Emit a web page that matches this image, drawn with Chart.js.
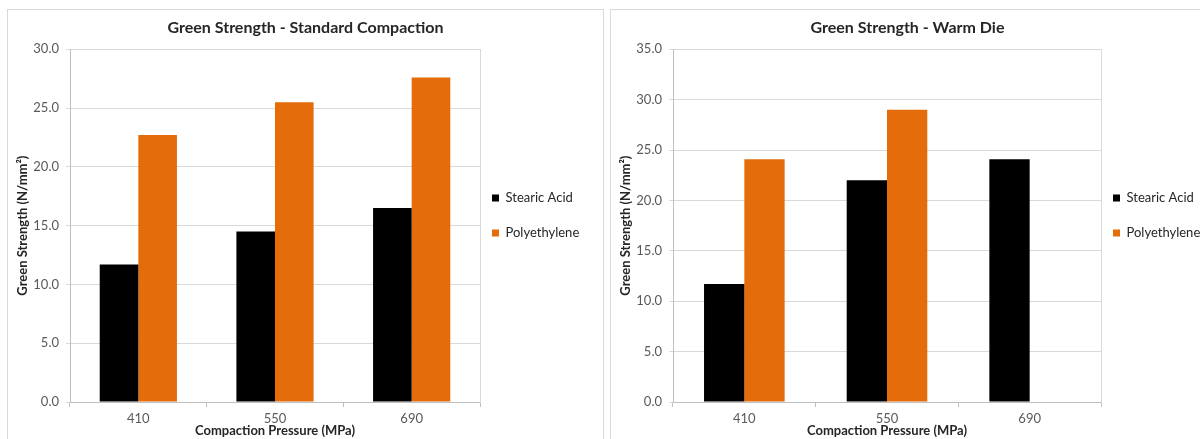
<!DOCTYPE html>
<html>
<head>
<meta charset="utf-8">
<script src="https://cdn.jsdelivr.net/npm/chart.js@4.4.1/dist/chart.umd.min.js"></script>
<style>
  html, body { margin: 0; padding: 0; background: #fff; overflow: hidden; }
  .panel { position: absolute; top: 9px; height: 440px; border: 1px solid #d9d9d9; background: #fff; }
  #leftPanel { left: 7px; width: 595px; }
  #rightPanel { left: 610px; width: 640px; }
  canvas { display: block; }
</style>
</head>
<body>
<div class="panel" id="leftPanel"><canvas id="standardChart" width="595" height="429"></canvas></div>
<div class="panel" id="rightPanel"><canvas id="warmChart" width="593" height="429"></canvas></div>
<script>
// compaction pressures (MPa)
const pressures = ['410', '550', '690'];

// green strength, N/mm2 - standard compaction
const standardStearic = [11.7, 14.5, 16.5];
const standardPoly = [22.7, 25.5, 27.6];

// green strength, N/mm2 - warm die (no polyethylene value at 690)
const warmStearic = [11.7, 22.0, 24.1];
const warmPoly = [24.1, 29.0, null];

const FONT = 'Lato, "Open Sans", sans-serif';
const ORANGE = '#e46c0a';
const GRID = '#d9d9d9';
const LEGEND_W = 60;

// put the legend just right of the plot, level with the middle of it
const legendSpot = {
  id: 'legendSpot',
  afterLayout(chart) {
    const lg = chart.legend;
    const pad = lg.options.labels.padding;
    lg.left = chart.chartArea.right + 12 - pad;
    lg.top = 181.5 - pad;
  }
};

function makeChart(canvasId, title, stearic, poly, yMax, rightGap) {
  const ctx = document.getElementById(canvasId).getContext('2d');
  return new Chart(ctx, {
    type: 'bar',
    data: {
      labels: pressures,
      datasets: [
        { label: 'Stearic Acid', data: stearic, backgroundColor: '#000000' },
        { label: 'Polyethylene', data: poly, backgroundColor: ORANGE }
      ]
    },
    plugins: [legendSpot],
    options: {
      responsive: false,
      animation: false,
      categoryPercentage: 0.565,
      barPercentage: 1.0,
      layout: { padding: 0 },
      plugins: {
        title: {
          display: true,
          text: title,
          color: '#262626',
          font: { family: FONT, size: 16, weight: 'bold' },
          padding: { top: 8, bottom: 12.1 }
        },
        legend: {
          position: 'right',
          align: 'start',
          maxWidth: LEGEND_W,
          labels: {
            boxWidth: 7,
            boxHeight: 7,
            padding: 22,
            color: '#262626',
            font: { family: FONT, size: 13 }
          }
        },
        tooltip: { enabled: false }
      },
      scales: {
        x: {
          grid: { display: true, drawOnChartArea: false, drawTicks: true, tickLength: 5, color: '#bfbfbf' },
          border: { color: '#bfbfbf' },
          ticks: { color: '#595959', padding: 4, font: { family: FONT, size: 13 } },
          title: {
            display: true,
            text: 'Compaction Pressure (MPa)',
            color: '#262626',
            font: { family: FONT, size: 13, weight: 'bold' },
            padding: { top: 0, bottom: 0 }
          },
          afterFit: scale => { scale.height = 37; }
        },
        y: {
          min: 0,
          max: yMax,
          grid: { color: GRID, tickLength: 4 },
          border: { color: '#bfbfbf' },
          ticks: {
            stepSize: 5,
            color: '#595959',
            padding: 7,
            font: { family: FONT, size: 13 },
            callback: v => v.toFixed(1)
          },
          title: {
            display: true,
            text: 'Green Strength (N/mm²)',
            color: '#262626',
            font: { family: FONT, size: 13, weight: 'bold' },
            padding: { top: 7, bottom: 0 }
          },
          afterFit: scale => { scale.width = 62; }
        },
        yRight: {
          position: 'right',
          min: 0,
          max: yMax,
          grid: { drawOnChartArea: false, drawTicks: false },
          border: { color: GRID },
          ticks: { display: false },
          afterFit: scale => { scale.width = rightGap; }
        }
      }
    }
  });
}

// rightGap = room between the plot and the legend column
makeChart('standardChart', 'Green Strength - Standard Compaction', standardStearic, standardPoly, 30, 63);
makeChart('warmChart', 'Green Strength - Warm Die', warmStearic, warmPoly, 35, 43);
</script>
</body>
</html>
